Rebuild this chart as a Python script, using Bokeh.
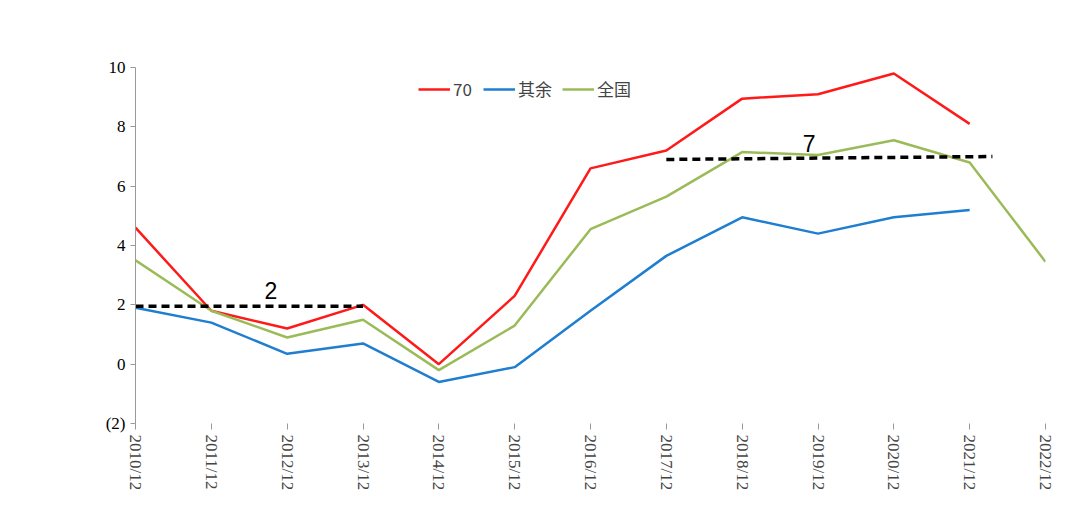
from bokeh.plotting import figure
from bokeh.models import Label, Legend, LegendItem, FixedTicker, Range1d
from bokeh.embed import file_html
from bokeh.resources import INLINE
import math

cats = ["2010/12","2011/12","2012/12","2013/12","2014/12","2015/12","2016/12",
        "2017/12","2018/12","2019/12","2020/12","2021/12","2022/12"]
s70 = [4.6, 1.8, 1.2, 2.0, 0.0, 2.3, 6.6, 7.2, 8.95, 9.1, 9.8, 8.1]
rest = [1.9, 1.4, 0.35, 0.7, -0.6, -0.1, 1.8, 3.65, 4.95, 4.4, 4.95, 5.2]
nat = [3.5, 1.8, 0.9, 1.5, -0.2, 1.3, 4.55, 5.65, 7.15, 7.05, 7.55, 6.8, 3.45]
avg_lo_x = [0, 3]; avg_lo_y = [1.95, 1.95]
avg_hi_x = [7, 11.3]; avg_hi_y = [6.9, 7.0]

p = figure(width=1072, height=511, output_backend="svg", toolbar_location=None,
           x_range=Range1d(0, 12), y_range=Range1d(-2, 10),
           min_border_left=135, min_border_right=27, min_border_top=67, min_border_bottom=88)
p.outline_line_color = None
p.grid.visible = False

title = Label(x=30, y=478, x_units="screen", y_units="screen",
              text="图14：商品房销售-扣土地购置费后投资占 GDP 比重，%",
              text_font="Noto Sans CJK SC", text_font_size="23px", text_font_style="bold",
              text_color="black")
p.add_layout(title)

p.yaxis.ticker = FixedTicker(ticks=[-2, 0, 2, 4, 6, 8, 10])
p.yaxis.major_label_overrides = {-2: "(2)"}
p.yaxis.major_label_text_font = "Liberation Serif"
p.yaxis.major_label_text_font_size = "17px"
p.yaxis.major_label_text_color = "black"
p.yaxis.axis_line_color = "#999999"
p.yaxis.major_tick_line_color = "#999999"
p.yaxis.major_tick_in = 0
p.yaxis.major_tick_out = 5
p.yaxis.minor_tick_line_color = None

p.xaxis.ticker = FixedTicker(ticks=list(range(13)))
p.xaxis.major_label_overrides = {i: c for i, c in enumerate(cats)}
p.xaxis.major_label_orientation = -math.pi / 2
p.xaxis.major_label_text_font = "Liberation Serif"
p.xaxis.major_label_text_font_size = "17px"
p.xaxis.axis_line_color = None
p.xaxis.major_tick_line_color = "#999999"
p.xaxis.major_tick_in = 0
p.xaxis.major_tick_out = 6
p.xaxis.minor_tick_line_color = None

r1 = p.line(list(range(len(s70))), s70, line_color="#ff1a1a", line_width=2.5)
r2 = p.line(list(range(len(rest))), rest, line_color="#1f7ed0", line_width=2.5)
r3 = p.line(list(range(len(nat))), nat, line_color="#9bbb59", line_width=2.5)
p.line(avg_lo_x, avg_lo_y, line_color="black", line_width=3.5, line_dash="8 5")
p.line(avg_hi_x, avg_hi_y, line_color="black", line_width=3.5, line_dash="8 5")
p.add_layout(Label(x=1.7, y=2.2, text="2", text_font="Liberation Sans", text_font_size="23px", text_color="black"))
p.add_layout(Label(x=8.8, y=7.15, text="7", text_font="Liberation Sans", text_font_size="23px", text_color="black"))

leg = Legend(items=[LegendItem(label="70", renderers=[r1]),
                    LegendItem(label="其余", renderers=[r2]),
                    LegendItem(label="全国", renderers=[r3])],
             orientation="horizontal", location=(283, 322), background_fill_alpha=0,
             border_line_color=None, label_text_font="Noto Sans CJK SC",
             label_text_font_size="17px", glyph_width=32, spacing=10, label_standoff=3)
p.add_layout(leg, "center")

open("out.html", "w").write(file_html(p, INLINE).replace("</head>",
    "<style>svg text{}</style></head>"))
